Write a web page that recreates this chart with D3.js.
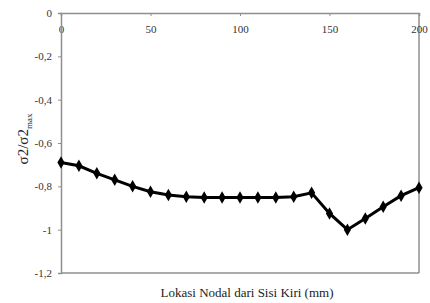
<!DOCTYPE html>
<html><head><meta charset="utf-8">
<script src="https://cdn.jsdelivr.net/npm/d3@7"></script>
<style>body{margin:0;background:#fff}svg{display:block}</style>
</head><body>
<script>
const xValues = [0,10,20,30,40,50,60,70,80,90,100,110,120,130,140,150,160,170,180,190,200];
const yValues = [-0.69,-0.705,-0.74,-0.77,-0.80,-0.825,-0.84,-0.848,-0.852,-0.852,-0.852,-0.852,-0.852,-0.848,-0.83,-0.925,-1.0,-0.948,-0.894,-0.843,-0.806];
const xTicks = [0,50,100,150,200];
const yTicks = [0,-0.2,-0.4,-0.6,-0.8,-1,-1.2];
const xLabel = "Lokasi Nodal dari Sisi Kiri (mm)";

const W=430,H=303;
const svg=d3.select("body").append("svg").attr("width",W).attr("height",H);
const x=d3.scaleLinear().domain([0,200]).range([61,419]);
const y=d3.scaleLinear().domain([0,-1.2]).range([13,273]);
const font="'Liberation Serif','Times New Roman',serif";
const axisCol="#8f8f8f";
const fmt=d=>d3.format(".1f")(d).replace("\u2212","-").replace(".",",").replace(/,0$/,"");

// frame
svg.append("line").attr("x1",x(200)).attr("x2",x(200)).attr("y1",y(0)).attr("y2",y(-1.2)).attr("stroke",axisCol).attr("stroke-width",1.5);
svg.append("line").attr("x1",x(0)).attr("x2",x(200)).attr("y1",y(-1.2)).attr("y2",y(-1.2)).attr("stroke",axisCol).attr("stroke-width",1.5);

const ax=svg.append("g").attr("transform",`translate(0,${y(0)})`)
  .call(d3.axisTop(x).tickValues(xTicks).tickSize(-3).tickPadding(0).tickFormat(d3.format("d")));
ax.selectAll("text").attr("y",20).attr("dy","0");
const ay=svg.append("g").attr("transform",`translate(${x(0)},0)`)
  .call(d3.axisLeft(y).tickValues(yTicks).tickSize(3).tickPadding(6).tickFormat(fmt));
[ax,ay].forEach(g=>{
  g.select(".domain").attr("stroke",axisCol).attr("stroke-width",1.5);
  g.selectAll(".tick line").attr("stroke",axisCol);
  g.selectAll("text").attr("font-family",font).attr("font-size",11).attr("fill","#333");
});
ay.selectAll("text").attr("x",-9);

// line
svg.append("path").datum(xValues.map((v,i)=>[v,yValues[i]]))
  .attr("d",d3.line().x(d=>x(d[0])).y(d=>y(d[1])))
  .attr("fill","none").attr("stroke","#000").attr("stroke-width",3);
svg.append("g").selectAll("path").data(xValues.map((v,i)=>[v,yValues[i]])).join("path")
  .attr("transform",d=>`translate(${x(d[0])},${y(d[1])})`)
  .attr("d",d3.symbol().type(d3.symbolDiamond).size(45))
  .attr("fill","#000");

// labels
svg.append("text").attr("x",247).attr("y",297).attr("text-anchor","middle")
  .attr("font-family",font).attr("font-size",13).attr("fill","#222").text(xLabel);
const yl=svg.append("text").attr("transform","translate(28,139) rotate(-90)").attr("text-anchor","middle")
  .attr("font-family",font).attr("font-size",15).attr("fill","#222");
yl.append("tspan").text("σ2/σ2");
yl.append("tspan").attr("font-size",9).attr("dy",4).text("max");
</script>
</body></html>
